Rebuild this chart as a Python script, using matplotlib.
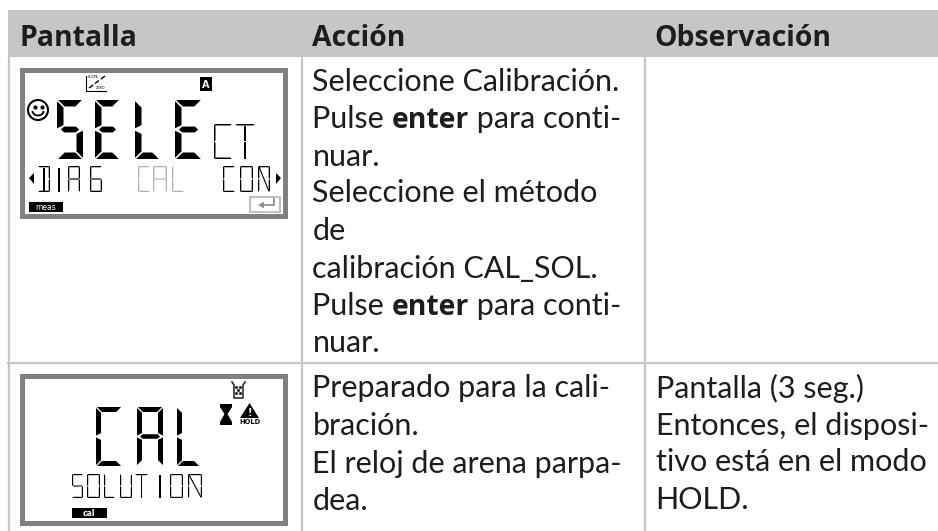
import numpy as np
import matplotlib
matplotlib.use('Agg')
import matplotlib.pyplot as plt
from matplotlib.patches import Rectangle, Polygon, Circle, Arc

W, H = 938, 531
HEADER_COL = '#c6c6c6'
LINE_COL = '#c6c6c6'
TEXT_COL = '#1d1d1b'
LCD_COL = '#808080'
FONT = 'Lato'
BOLD_FONT = 'Open Sans'
FS = 22
BOLD_FS = 20.4

headers = ['Pantalla', 'Acción', 'Observación']
# (text, bold) runs per line
action_row1 = [[('Seleccione Calibración.', False)],
               [('Pulse ', False), ('enter', True), (' para conti-', False)],
               [('nuar.', False)],
               [('Seleccione el método', False)],
               [('de', False)],
               [('calibración CAL_SOL.', False)],
               [('Pulse ', False), ('enter', True), (' para conti-', False)],
               [('nuar.', False)]]
action_row2 = ['Preparado para la cali-', 'bración.', 'El reloj de arena parpa-', 'dea.']
note_row2 = ['Pantalla (3 seg.)', 'Entonces, el disposi-', 'tivo está en el modo', 'HOLD.']

# which of the seven segments are lit: top, upper r, lower r, bottom, lower l, upper l, middle
SEGS = {'S': 'afgcd', 'E': 'afged', 'L': 'fed', 'C': 'afed', 'A': 'abcefg',
        'G': 'afedcg', 'O': 'abcdef', 'U': 'bcdef', 'D': 'abcd', 'N': 'abcef'}

fig = plt.figure(figsize=(W / 100, H / 100), dpi=100)
ax = fig.add_axes([0, 0, 1, 1])
ax.set_xlim(0, W)
ax.set_ylim(H, 0)
ax.axis('off')


def seg_char(ch, x0, x1, y0, y1, th, col='black'):
    # one seven segment letter inside the given pixel box
    ym = (y0 + y1) / 2
    g = th * 0.18
    shapes = {
        'a': [(x0 + g, y0), (x1 - g, y0), (x1 - th - g, y0 + th), (x0 + th + g, y0 + th)],
        'd': [(x0 + g, y1), (x1 - g, y1), (x1 - th - g, y1 - th), (x0 + th + g, y1 - th)],
        'f': [(x0, y0 + g), (x0 + th, y0 + th + g), (x0 + th, ym - th / 2 - g), (x0, ym - g)],
        'e': [(x0, ym + g), (x0 + th, ym + th / 2 + g), (x0 + th, y1 - th - g), (x0, y1 - g)],
        'b': [(x1, y0 + g), (x1 - th, y0 + th + g), (x1 - th, ym - th / 2 - g), (x1, ym - g)],
        'c': [(x1, ym + g), (x1 - th, ym + th / 2 + g), (x1 - th, y1 - th - g), (x1, y1 - g)],
        'g': [(x0 + th * 0.6, ym), (x0 + th * 1.1, ym - th * 0.45), (x1 - th * 1.1, ym - th * 0.45),
              (x1 - th * 0.6, ym), (x1 - th * 1.1, ym + th * 0.45), (x0 + th * 1.1, ym + th * 0.45)],
    }
    xm = (x0 + x1) / 2
    if ch == 'T':
        ax.add_patch(Polygon(shapes['a'], color=col, lw=0))
    if ch in 'TID':
        for a, b in [(y0 + th + g, ym - g), (ym + g, y1 - g)]:
            ax.add_patch(Polygon([(xm - th / 2, a), (xm + th / 2, a), (xm + th / 2, b), (xm - th / 2, b)],
                                 color=col, lw=0))
        if ch != 'D':
            return
    for s in SEGS[ch]:
        ax.add_patch(Polygon(shapes[s], color=col, lw=0))
    if ch == 'N':
        ax.plot([x0 + th, x1 - th], [y0 + th, y1 - th], color=col, lw=0.8)


def seg_word(word, xs, y0, y1, th, col='black'):
    for ch, (a, b) in zip(word, xs):
        seg_char(ch, a, b, y0, y1, th, col)


def runs_line(x, y, runs):
    # bold words sit inside normal text, so step along by measured width
    r = fig.canvas.get_renderer()
    for txt, bold in runs:
        if bold:
            t = ax.text(x, y, txt, fontsize=BOLD_FS, family=BOLD_FONT, fontweight='bold', color=TEXT_COL)
        else:
            t = ax.text(x, y, txt, fontsize=FS, family=FONT, color=TEXT_COL)
        x = t.get_window_extent(r).x1


def lcd(y0, y1):
    ax.add_patch(Rectangle((21.5, y0 + 2.5), 263, y1 - y0 - 5, fc='white', ec=LCD_COL, lw=3.6))


# header and grid
ax.add_patch(Rectangle((8, 10), W - 8, 47, fc=HEADER_COL, ec='none'))
for x in [9, 302, 645]:
    ax.plot([x, x], [57, H], color=LINE_COL, lw=1.6, solid_capstyle='butt')
ax.plot([8, W], [362.5, 362.5], color=LINE_COL, lw=1.6)
for x, s in zip([19, 312, 654], headers):
    ax.text(x, 46, s, fontsize=BOLD_FS, family=BOLD_FONT, fontweight='bold', color=TEXT_COL, va='baseline')

# body text
y_row1 = [91, 128, 166, 202, 240, 278, 315, 352]
for y, runs in zip(y_row1, action_row1):
    runs_line(312.5, y, runs)
for y, s in zip([397, 435, 473, 510], action_row2):
    ax.text(312.5, y, s, fontsize=FS, family=FONT, color=TEXT_COL)
for y, s in zip([398, 435, 471, 509], note_row2):
    ax.text(655.5, y, s, fontsize=FS, family=FONT, color=TEXT_COL)

# first display
lcd(67, 218)
seg_word('SELE', [(57, 83), (95, 120), (135, 160), (175, 202)], 100, 159, 6.5)
seg_word('CT', [(214, 232), (235, 255)], 124, 159, 1.5)
seg_word('DIAG', [(38, 50), (54, 64), (68, 80), (90, 102)], 166, 192, 1.3)
seg_word('CAL', [(138, 150), (153, 167), (172, 184)], 166, 192, 1.3, '#b0b0b0')
seg_word('CON', [(223, 235), (240, 253), (258, 270)], 166, 192, 1.3)
ax.add_patch(Polygon([(29, 178), (34, 173), (34, 184)], color='black', lw=0))
ax.add_patch(Polygon([(281, 178), (276, 173), (276, 184)], color='black', lw=0))
ax.add_patch(Rectangle((29, 202), 34, 10, fc='black', ec='none'))
ax.text(46, 207, 'meas', fontsize=5.5, family='DejaVu Sans', color='white', ha='center', va='center')
ax.add_patch(Rectangle((250, 196.5), 30, 15, fc='white', ec='#c0c0c0', lw=1.5))
ax.plot([274, 274, 262], [199, 205, 205], color='#909090', lw=1.3)
ax.add_patch(Polygon([(258, 205), (264, 201.5), (264, 208.5)], color='#909090', lw=0))
ax.add_patch(Circle((38, 110), 10, fc='white', ec='black', lw=1.5))
ax.plot([34.5, 41.5], [107, 107], 'o', color='black', ms=2)
ax.add_patch(Arc((38, 111), 11, 9, theta1=0, theta2=180, color='black', lw=1.3))
# slope icon
ax.plot([86, 86, 106], [76, 91, 91], color='black', lw=0.8)
ax.plot([89, 105], [88, 76], color='black', lw=1, ls='--')
ax.text(93, 77, 'SLOPE', fontsize=2.4, family='DejaVu Sans', color='black', ha='center', va='center')
ax.text(101, 88, 'ZERO', fontsize=2.4, family='DejaVu Sans', color='black', ha='center', va='center')
ax.add_patch(Rectangle((200, 77), 12, 14, fc='black', ec='none'))
ax.text(206.2, 84.5, 'A', fontsize=7, family='DejaVu Sans', fontweight='bold', color='white', ha='center', va='center')

# second display
lcd(373, 525)
seg_word('CAL', [(96, 122), (137, 163), (177, 200)], 407, 466, 5)
seg_word('SOLUTION', [(72, 83), (87, 100), (104, 115), (120, 132), (135, 148), (155, 165), (170, 183), (188, 202)],
         474, 498, 1.2)
ax.add_patch(Rectangle((72, 508), 35, 10, fc='black', ec='none'))
ax.text(89, 513, 'cal', fontsize=5.5, family='DejaVu Sans', fontweight='bold', color='white', ha='center', va='center')
# beaker
ax.plot([232, 234, 234, 243, 243, 245], [382, 385, 398, 398, 385, 382], color='#303030', lw=1.2)
ax.plot([236, 240, 238, 236, 240], [387, 387, 390, 393, 393], '.', color='#303030', ms=2.5)
# hourglass
ax.add_patch(Polygon([(220, 404), (232, 404), (232, 407), (227.5, 414), (232, 422), (232, 425),
                      (220, 425), (220, 422), (224.5, 414), (220, 407)], color='black', lw=0))
# warning triangle
ax.add_patch(Polygon([(240, 418), (259, 418), (249.5, 403)], color='black', lw=0))
ax.text(249.5, 416.5, '!', fontsize=7, family='DejaVu Sans', fontweight='bold', color='white', ha='center', va='baseline')
ax.text(249.5, 422, 'HOLD', fontsize=4.8, family='DejaVu Sans', fontweight='bold', color='black', ha='center', va='center')

fig.savefig('out.png', dpi=100)
